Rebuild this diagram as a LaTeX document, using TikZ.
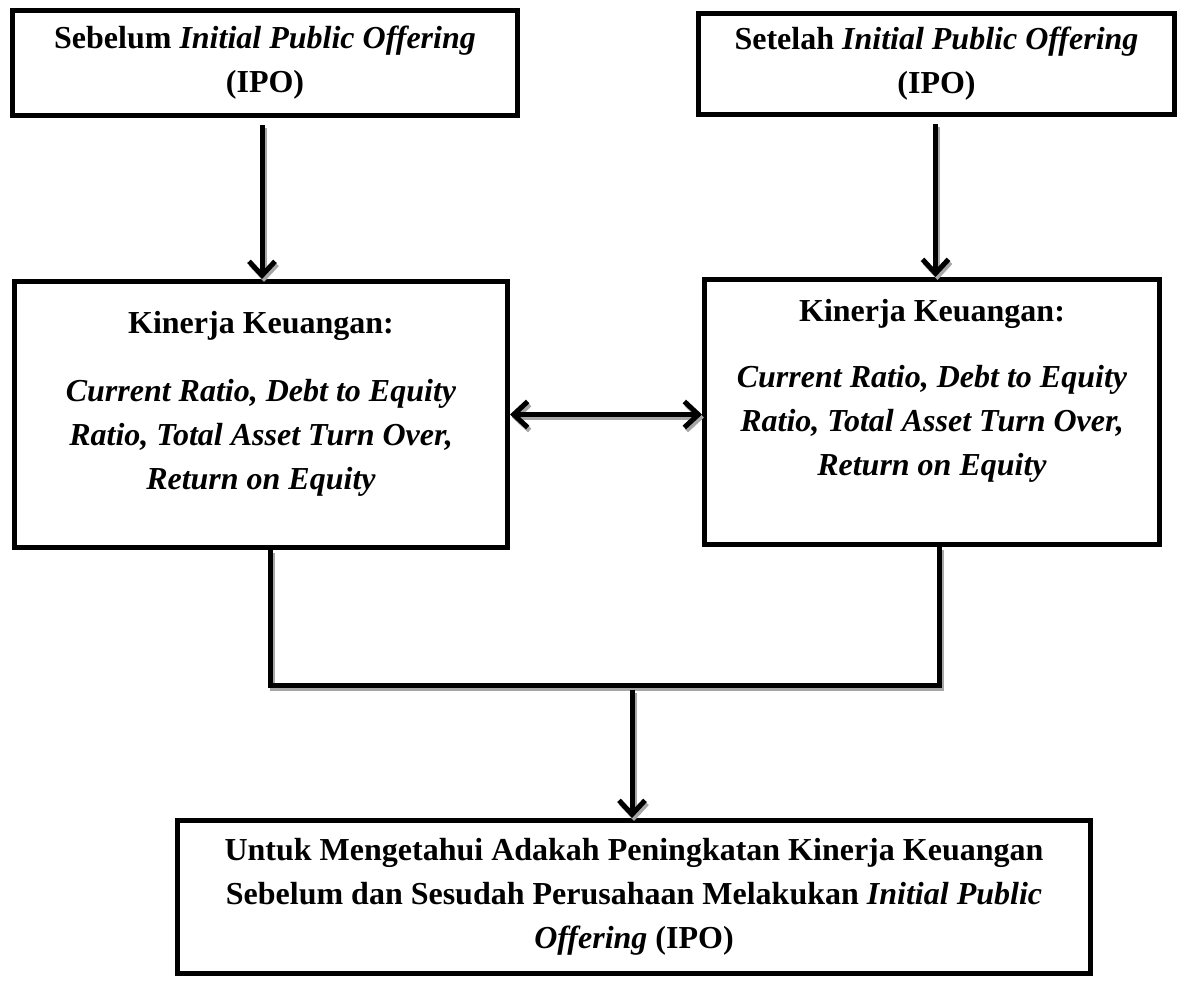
\documentclass[tikz,border=0pt]{standalone}
\usepackage{fontspec}
\setmainfont{Liberation Serif}
\usetikzlibrary{arrows.meta}

\begin{document}
\begin{tikzpicture}[x=1pt, y=-1pt,
    box/.style={draw, line width=5pt, align=center, inner sep=0pt,
        font=\bfseries\fontsize{32}{44}\selectfont},
    link/.style={line width=5pt,
        preaction={draw=black!35, line width=5pt, transform canvas={shift={(2pt,-3pt)}}}},
    tip/.style={-{Straight Barb[length=14pt, width=26pt]}},
    bitip/.style={{Straight Barb[length=14pt, width=26pt]}-{Straight Barb[length=14pt, width=26pt]}}]
    \useasboundingbox (0,0) rectangle (1182,985);

    \node[box, minimum width=505pt, minimum height=105pt] (before) at (265,63)
        {Sebelum \textit{Initial Public Offering}\\(IPO)};
    \node[box, minimum width=476pt, minimum height=101pt] (after) at (936.5,64)
        {Setelah \textit{Initial Public Offering}\\(IPO)};

    \node[box, minimum width=493pt, minimum height=266pt] (kinerjaA) at (261,414.5)
        {Kinerja Keuangan:\\[24pt]
         \textit{Current Ratio, Debt to Equity}\\
         \textit{Ratio, Total Asset Turn Over,}\\
         \textit{Return on Equity}\\[-15pt]\mbox{}};
    \node[box, minimum width=455pt, minimum height=265pt] (kinerjaB) at (932,412)
        {Kinerja Keuangan:\\[22pt]
         \textit{Current Ratio, Debt to Equity}\\
         \textit{Ratio, Total Asset Turn Over,}\\
         \textit{Return on Equity}\\[5pt]\mbox{}};

    \node[box, minimum width=913pt, minimum height=153pt] (result) at (634,897)
        {Untuk Mengetahui Adakah Peningkatan Kinerja Keuangan\\
         Sebelum dan Sesudah Perusahaan Melakukan \textit{Initial Public}\\
         \textit{Offering} (IPO)};

    \coordinate (join) at (632,685);

    % arrows
    \draw[link, tip, shorten <=7pt] ([xshift=-3pt]before.south) -- ([xshift=-3pt]before.south |- kinerjaA.north);
    \draw[link, tip, shorten <=7pt] ([xshift=-1pt]after.south) -- ([xshift=-1pt]after.south |- kinerjaB.north);
    \draw[link, bitip] (kinerjaA.east) -- (kinerjaA.east -| kinerjaB.west);
    \draw[link] ([xshift=9pt]kinerjaA.south) |- (join) -| ([xshift=7pt]kinerjaB.south);
    \draw[link, tip, shorten <=5pt] (join) -- (join |- result.north);
\end{tikzpicture}
\end{document}
